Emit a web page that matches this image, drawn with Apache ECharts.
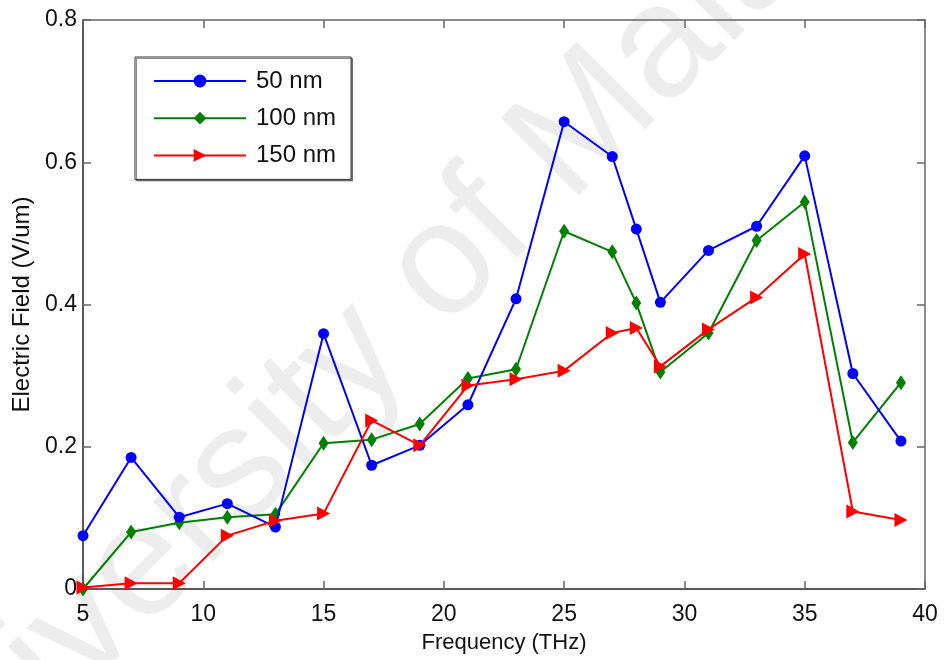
<!DOCTYPE html>
<html>
<head>
<meta charset="utf-8">
<script src="https://cdn.jsdelivr.net/npm/echarts@6/dist/echarts.min.js"></script>
<style>
  html, body { margin: 0; padding: 0; background: #ffffff; }
  #chart { width: 945px; height: 660px; }
</style>
</head>
<body>
<div id="chart"></div>
<script>
// Frequency sweep (THz) and the electric field (V/um) for each thickness
const frequency = [5, 7, 9, 11, 13, 15, 17, 19, 21, 23, 25, 27, 28, 29, 31, 33, 35, 37, 39];
const field50nm = [0.075, 0.185, 0.101, 0.120, 0.087, 0.359, 0.174, 0.202, 0.259, 0.408, 0.657, 0.608, 0.506, 0.403, 0.476, 0.510, 0.609, 0.303, 0.208];
const field100nm = [0.000, 0.080, 0.093, 0.101, 0.105, 0.205, 0.210, 0.232, 0.296, 0.309, 0.503, 0.474, 0.402, 0.305, 0.360, 0.490, 0.544, 0.206, 0.290];
const field150nm = [0.002, 0.008, 0.008, 0.075, 0.096, 0.106, 0.237, 0.202, 0.286, 0.295, 0.307, 0.360, 0.367, 0.313, 0.365, 0.410, 0.471, 0.109, 0.097];
const seriesNames = ['50 nm', '100 nm', '150 nm'];
const xAxisTitle = 'Frequency (THz)';
const yAxisTitle = 'Electric Field (V/um)';
const watermarkText = 'University of Malaya';

const pairs = (ys) => frequency.map((f, i) => [f, ys[i]]);

const FONT = "'Liberation Sans', Arial, sans-serif";

const frameAxis = (extra) => Object.assign({
  type: 'value',
  axisLine: { show: true, onZero: false, lineStyle: { color: '#222', width: 1.5 } },
  axisTick: { show: true, inside: true, length: 8, lineStyle: { color: '#666', width: 1.5 } },
  axisLabel: { show: false },
  splitLine: { show: false }
}, extra);

const chart = echarts.init(document.getElementById('chart'), null, { renderer: 'canvas' });

chart.setOption({
  animation: false,
  backgroundColor: '#ffffff',
  graphic: [{
    type: 'text',
    silent: true,
    z: -10,
    x: 394,
    y: 318,
    rotation: Math.PI / 4,
    style: {
      text: watermarkText,
      fontSize: 160,
      fontFamily: FONT,
      fill: '#ededed',
      align: 'center',
      verticalAlign: 'middle'
    }
  }],
  grid: { left: 83, right: 20, top: 20, bottom: 71, containLabel: false },
  legend: {
    orient: 'vertical',
    left: 135,
    top: 57,
    padding: [12, 15, 12, 18],
    itemWidth: 92,
    itemHeight: 16,
    itemGap: 13.2,
    borderColor: '#333',
    borderWidth: 1,
    backgroundColor: '#ffffff',
    shadowColor: 'rgba(0,0,0,0.45)',
    shadowOffsetX: 1.5,
    shadowOffsetY: 1.5,
    textStyle: { fontSize: 24, fontFamily: FONT, color: '#111', padding: [0, 0, 0, 5] },
    data: seriesNames
  },
  xAxis: [
    frameAxis({
      position: 'bottom', min: 5, max: 40, interval: 5,
      name: xAxisTitle, nameLocation: 'middle', nameGap: 43,
      nameTextStyle: { fontSize: 22, color: '#111', fontFamily: FONT },
      axisLabel: { show: true, fontSize: 23, color: '#111', fontFamily: FONT, margin: 14 }
    }),
    frameAxis({
      position: 'top', min: 5, max: 40, interval: 5,
      axisLine: { show: true, onZero: false, lineStyle: { color: '#666', width: 1.5 } }
    })
  ],
  yAxis: [
    frameAxis({
      position: 'left', min: 0, max: 0.8, interval: 0.2,
      name: yAxisTitle, nameLocation: 'middle', nameGap: 48,
      nameTextStyle: { fontSize: 24, color: '#111', fontFamily: FONT },
      axisLabel: { show: true, fontSize: 23, color: '#111', fontFamily: FONT, margin: 6 }
    }),
    frameAxis({
      position: 'right', min: 0, max: 0.8, interval: 0.2,
      axisLine: { show: true, onZero: false, lineStyle: { color: '#666', width: 1.5 } }
    })
  ],
  series: [
    {
      name: seriesNames[0], type: 'line', xAxisIndex: 0, yAxisIndex: 0,
      data: pairs(field50nm),
      symbol: 'circle', symbolSize: 11,
      lineStyle: { color: '#0000ff', width: 2 },
      itemStyle: { color: '#0000ff' },
      clip: false, z: 4
    },
    {
      name: seriesNames[1], type: 'line', xAxisIndex: 0, yAxisIndex: 0,
      data: pairs(field100nm),
      symbol: 'diamond', symbolSize: [10, 15],
      lineStyle: { color: '#008000', width: 2 },
      itemStyle: { color: '#008000' },
      clip: false, z: 3
    },
    {
      name: seriesNames[2], type: 'line', xAxisIndex: 0, yAxisIndex: 0,
      data: pairs(field150nm),
      symbol: 'path://M0,0L10,5L0,10Z', symbolSize: [13, 14],
      lineStyle: { color: '#ff0000', width: 2 },
      itemStyle: { color: '#ff0000' },
      clip: false, z: 5
    }
  ]
});
</script>
</body>
</html>
